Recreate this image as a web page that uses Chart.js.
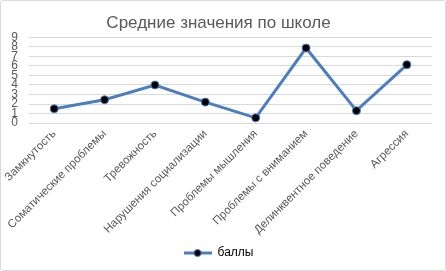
<!DOCTYPE html>
<html><head><meta charset="utf-8">
<script src="https://cdn.jsdelivr.net/npm/chart.js@4"></script>
<style>
html,body{margin:0;padding:0;background:#fff;}
#wrap{position:absolute;left:0;top:0;width:444px;height:269px;border:1px solid #d9d9d9;border-radius:3px;background:#fff;}
canvas{display:block;}
</style></head><body>
<div id="wrap"><canvas id="c" width="444" height="269"></canvas></div>
<script>
const categories = ["Замкнутость","Соматические проблемы","Тревожность","Нарушения социализации","Проблемы мышления","Проблемы с вниманием","Делинквентное поведение","Агрессия"];
const scores = [1.5, 2.45, 4.0, 2.2, 0.55, 7.88, 1.3, 6.12];
const seriesName = "баллы";
const chartTitle = "Средние значения по школе";
const FONT = "'Liberation Sans', Arial, sans-serif";
const BLUE = '#4a7ebf';

const legendIcon = document.createElement('canvas');
legendIcon.width = 28; legendIcon.height = 10;
(function(){
  const g = legendIcon.getContext('2d');
  g.strokeStyle = BLUE; g.lineWidth = 3;
  g.beginPath(); g.moveTo(0,5); g.lineTo(28,5); g.stroke();
  g.fillStyle = '#000'; g.beginPath(); g.arc(14,5,3.5,0,Math.PI*2); g.fill();
  g.strokeStyle = BLUE; g.lineWidth = 1; g.stroke();
})();

new Chart(document.getElementById('c'), {
  type: 'line',
  data: { labels: categories, datasets: [{
    label: seriesName, data: scores,
    borderColor: BLUE, borderWidth: 3,
    pointBackgroundColor: '#000', pointBorderColor: BLUE, pointBorderWidth: 1,
    pointRadius: 4, tension: 0, fill: false
  }]},
  options: {
    responsive: false, animation: false, devicePixelRatio: 1,
    layout: { padding: { left: 4, right: 13, top: 2, bottom: 1 } },
    plugins: {
      title: { display: true, text: chartTitle, color: '#595959', font: { family: FONT, size: 17, weight: 'normal' }, padding: { top: 10, bottom: 4 } },
      legend: { position: 'bottom', labels: { color: '#595959', font: { family: FONT, size: 12 }, usePointStyle: true, pointStyleWidth: 28, padding: 6,
        generateLabels: (ch) => [{ text: seriesName, pointStyle: legendIcon, fillStyle: BLUE, strokeStyle: BLUE, lineWidth: 0, datasetIndex: 0 }] } },
      tooltip: { enabled: false }
    },
    scales: {
      x: { offset: true, grid: { display: false, drawTicks: false }, border: { display: false },
        ticks: { color: '#595959', font: { family: FONT, size: 11.5 }, maxRotation: 45, minRotation: 45, autoSkip: false, padding: 4 } },
      y: { min: 0, max: 9, grid: { color: '#d9d9d9', drawTicks: false }, border: { display: false },
        afterFit: (s) => { s.width = 24; },
        ticks: { stepSize: 1, autoSkip: false, color: '#595959', font: { family: FONT, size: 12 }, padding: 11 } }
    }
  }
});
</script></body></html>
